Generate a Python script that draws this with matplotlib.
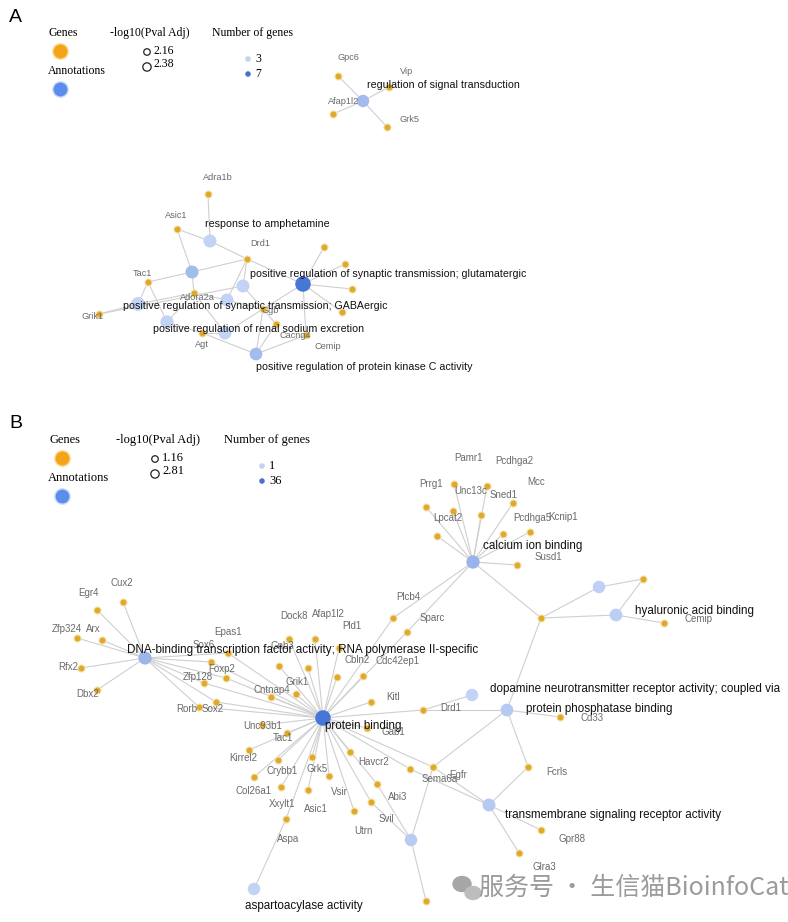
import matplotlib
matplotlib.use('Agg')
import matplotlib.pyplot as plt
import numpy as np
from matplotlib.colors import LinearSegmentedColormap
from matplotlib.patches import Ellipse

# ---------------- panel A data ----------------
A_ann = ['regulation of signal transduction', 'response to amphetamine',
         'positive regulation of synaptic transmission; glutamatergic',
         'positive regulation of synaptic transmission; GABAergic',
         'positive regulation of renal sodium excretion',
         'positive regulation of protein kinase C activity',
         'annA1', 'annA2', 'annA3', 'annA4']
A_pval = [2.16, 2.20, 2.38, 2.25, 2.22, 2.18, 2.20, 2.20, 2.20, 2.20]
A_genes = ['Gpc6', 'Vip', 'Afap1l2', 'Grk5', 'Adra1b', 'Asic1', 'Drd1', 'Tac1',
           'Adora2a', 'Grik1', 'Agt', 'Cacng4', 'gA1', 'gA2', 'gA3', 'gA4', 'gA5', 'gA6']
A_edges = [
    ('regulation of signal transduction', ['Gpc6', 'Vip', 'Afap1l2', 'Grk5']),
    ('response to amphetamine', ['Adra1b', 'Asic1', 'Drd1']),
    ('annA1', ['Tac1', 'Drd1', 'Asic1', 'Adora2a']),
    ('annA2', ['Drd1', 'Grik1', 'gA6']),
    ('annA3', ['Drd1', 'Adora2a', 'gA5']),
    ('positive regulation of synaptic transmission; glutamatergic',
     ['Drd1', 'gA1', 'gA2', 'gA3', 'gA4', 'Cacng4', 'gA5']),
    ('positive regulation of synaptic transmission; GABAergic', ['Tac1', 'Grik1', 'Adora2a']),
    ('positive regulation of renal sodium excretion', ['Tac1', 'Agt', 'Adora2a']),
    ('annA4', ['Adora2a', 'gA5', 'Agt']),
    ('positive regulation of protein kinase C activity', ['Agt', 'gA5', 'Cacng4', 'gA6']),
]

# ---------------- panel B data ----------------
B_ann = ['DNA-binding transcription factor activity; RNA polymerase II-specific',
         'calcium ion binding', 'hyaluronic acid binding', 'annB1',
         'dopamine neurotransmitter receptor activity; coupled via',
         'protein binding', 'protein phosphatase binding',
         'transmembrane signaling receptor activity', 'annB2', 'aspartoacylase activity']
B_pval = [1.5, 1.6, 1.3, 1.2, 1.16, 2.81, 1.3, 1.4, 1.2, 1.2]
pb_genes = ['Dock8', 'Afap1l2', 'Pld1', 'Gnb3', 'gB1', 'Cbln2', 'Cdc42ep1', 'Plcb4',
            'Sparc', 'Kitl', 'Drd1', 'Gab1', 'Havcr2', 'Abi3', 'Svil', 'Utrn', 'Vsir',
            'Asic1', 'Grk5', 'Aspa', 'Xxylt1', 'Col26a1', 'Crybb1', 'Kirrel2', 'Tac1',
            'Unc93b1', 'Grik1', 'Cntnap4', 'Sox2', 'Rorb', 'Zfp128', 'Foxp2', 'Sox6',
            'Epas1', 'Egfr', 'Sema6a']
tf_genes = ['Cux2', 'Egr4', 'Zfp324', 'Arx', 'Rfx2', 'Dbx2', 'Epas1', 'Sox6', 'Foxp2',
            'Zfp128', 'Rorb', 'Sox2']
ca_genes = ['gC1', 'gC2', 'gC3', 'gC4', 'gC5', 'gC6', 'gC7', 'gC8', 'gC9', 'gC10',
            'Plcb4', 'Sparc', 'gJ']
B_edges = [
    (B_ann[0], tf_genes),
    ('calcium ion binding', ca_genes),
    ('hyaluronic acid binding', ['gJ', 'gH', 'Cemip']),
    ('annB1', ['gJ', 'gH']),
    ('dopamine neurotransmitter receptor activity; coupled via', ['Drd1']),
    ('protein binding', pb_genes),
    ('protein phosphatase binding', ['gJ', 'Drd1', 'Cd33', 'Fcrls', 'Sema6a']),
    ('transmembrane signaling receptor activity', ['Fcrls', 'Egfr', 'Sema6a', 'Gpr88', 'Glra3']),
    ('annB2', ['Sema6a', 'Abi3', 'Svil', 'gB2']),
    ('aspartoacylase activity', ['Aspa']),
]

# ---------------- layout (pixel coordinates) ----------------
posA = {
    'regulation of signal transduction': (363, 101), 'response to amphetamine': (210, 241),
    'annA1': (192, 272), 'annA2': (243, 286), 'annA3': (227, 300), 'annA4': (225, 333),
    'positive regulation of synaptic transmission; glutamatergic': (303, 284),
    'positive regulation of synaptic transmission; GABAergic': (138, 304),
    'positive regulation of renal sodium excretion': (167, 322),
    'positive regulation of protein kinase C activity': (256, 354),
    'Gpc6': (338, 76), 'Vip': (389, 87), 'Afap1l2': (333, 114), 'Grk5': (387, 127),
    'Adra1b': (208, 194), 'Asic1': (177, 229), 'Drd1': (247, 259), 'Tac1': (148, 282),
    'Adora2a': (194, 293), 'Grik1': (99, 314), 'Agt': (202, 333), 'Cacng4': (306, 335),
    'gA1': (324, 247), 'gA2': (345, 264), 'gA3': (352, 289), 'gA4': (342, 312),
    'gA5': (263, 309), 'gA6': (276, 324),
}
labA = {
    'Gpc6': (348, 58), 'Vip': (407, 72), 'Afap1l2': (344, 101), 'Grk5': (410, 120),
    'Adra1b': (218, 177), 'Asic1': (176, 215), 'Drd1': (260, 243), 'Tac1': (142, 273),
    'Adora2a': (197, 297), 'Grik1': (93, 316), 'Agt': (202, 344), 'Cacng4': (295, 335),
    'Cemip': (328, 346), 'gA5': (270, 310),
}
textA = {'gA5': 'Ggb'}
annlabA = {
    'regulation of signal transduction': (443, 85),
    'response to amphetamine': (267, 224),
    'positive regulation of synaptic transmission; glutamatergic': (388, 274),
    'positive regulation of synaptic transmission; GABAergic': (255, 306),
    'positive regulation of renal sodium excretion': (259, 329),
    'positive regulation of protein kinase C activity': (364, 367),
}

posB = {
    B_ann[0]: (145, 658), 'calcium ion binding': (473, 562), 'hyaluronic acid binding': (616, 615),
    'annB1': (599, 587), 'dopamine neurotransmitter receptor activity; coupled via': (472, 695),
    'protein binding': (323, 718), 'protein phosphatase binding': (507, 710),
    'transmembrane signaling receptor activity': (489, 805), 'annB2': (411, 840),
    'aspartoacylase activity': (254, 889),
    'Cux2': (123, 602), 'Egr4': (97, 610), 'Zfp324': (77, 638), 'Arx': (102, 640),
    'Rfx2': (81, 668), 'Dbx2': (97, 690), 'Epas1': (228, 653), 'Sox6': (211, 662),
    'Foxp2': (226, 678), 'Zfp128': (204, 683), 'Rorb': (199, 707), 'Sox2': (216, 702),
    'Cntnap4': (271, 697), 'Grik1': (296, 694), 'Dock8': (289, 639), 'Afap1l2': (315, 639),
    'Pld1': (339, 648), 'Gnb3': (279, 666), 'gB1': (308, 668), 'Cbln2': (337, 677),
    'Cdc42ep1': (363, 676), 'Plcb4': (393, 618), 'Sparc': (407, 632), 'Kitl': (371, 702),
    'Drd1': (423, 710), 'Unc93b1': (262, 725), 'Tac1': (287, 733), 'Gab1': (367, 728),
    'Kirrel2': (249, 750), 'Crybb1': (278, 760), 'Grk5': (312, 757), 'Col26a1': (254, 777),
    'Xxylt1': (281, 787), 'Vsir': (329, 776), 'Asic1': (308, 790), 'Aspa': (286, 819),
    'Havcr2': (350, 752), 'Abi3': (377, 784), 'Svil': (371, 802), 'Utrn': (354, 811),
    'Sema6a': (433, 767), 'Egfr': (410, 769), 'Cd33': (560, 717), 'Fcrls': (528, 767),
    'Gpr88': (541, 830), 'Glra3': (519, 853), 'Cemip': (664, 623), 'gJ': (541, 618),
    'gH': (643, 579), 'gB2': (426, 901),
    'gC1': (454, 484), 'gC2': (487, 486), 'gC3': (513, 503), 'gC4': (426, 507),
    'gC5': (453, 511), 'gC6': (481, 515), 'gC7': (503, 534), 'gC8': (530, 532),
    'gC9': (437, 536), 'gC10': (517, 565),
}
labB = {
    'Cux2': (122, 583), 'Egr4': (89, 593), 'Zfp324': (67, 629), 'Arx': (93, 629),
    'Rfx2': (68, 667), 'Dbx2': (88, 694), 'Epas1': (228, 632), 'Sox6': (204, 645),
    'Foxp2': (222, 669), 'Zfp128': (198, 677), 'Rorb': (187, 709), 'Sox2': (213, 709),
    'Cntnap4': (272, 690), 'Grik1': (297, 682), 'Dock8': (294, 616), 'Afap1l2': (328, 614),
    'Pld1': (352, 626), 'Gnb3': (282, 646), 'Cbln2': (357, 660), 'Cdc42ep1': (398, 661),
    'Plcb4': (408, 597), 'Sparc': (432, 618), 'Kitl': (393, 697), 'Drd1': (451, 708),
    'Unc93b1': (263, 726), 'Tac1': (283, 738), 'Gab1': (393, 732), 'Kirrel2': (243, 758),
    'Crybb1': (282, 771), 'Grk5': (317, 769), 'Col26a1': (254, 791), 'Xxylt1': (282, 804),
    'Vsir': (339, 792), 'Asic1': (316, 809), 'Aspa': (288, 839), 'Havcr2': (374, 762),
    'Abi3': (398, 797), 'Svil': (386, 819), 'Utrn': (363, 831), 'Sema6a': (440, 779),
    'Egfr': (458, 775), 'Cd33': (592, 718), 'Fcrls': (557, 772), 'Gpr88': (572, 839),
    'Glra3': (544, 867), 'Cemip': (699, 619),
    'Pamr1': (469, 458), 'Pcdhga2': (514, 461), 'Mcc': (536, 482), 'Prrg1': (431, 484),
    'Unc13c': (471, 491), 'Sned1': (504, 495), 'Lpcat2': (448, 518), 'Pcdhga5': (532, 518),
    'Kcnip1': (563, 517), 'Susd1': (548, 557),
}
annlabB = {
    B_ann[0]: (303, 650), 'calcium ion binding': (533, 546),
    'hyaluronic acid binding': (695, 611),
    'dopamine neurotransmitter receptor activity; coupled via': (490, 689),
    'protein binding': (363, 726), 'protein phosphatase binding': (599, 709),
    'transmembrane signaling receptor activity': (613, 815),
    'aspartoacylase activity': (304, 906),
}
left_labels = {'dopamine neurotransmitter receptor activity; coupled via'}

GOLD = '#dfa92c'
EDGE = '#cfcfcf'
cmap = LinearSegmentedColormap.from_list('blues', ['#c3d3f5', '#4677d6'])


def draw_net(ax, edges, pos, pvals, ann, labs, annlabs, texts, gfs, afs, cmin, cmax, pmin, pmax):
    for a, gl in edges:
        for g in gl:
            x0, y0 = pos[a]
            x1, y1 = pos[g]
            ax.plot([x0, x1], [y0, y1], color=EDGE, lw=0.8, zorder=1)
    genes = sorted({g for _, gl in edges for g in gl})
    ax.scatter([pos[g][0] for g in genes], [pos[g][1] for g in genes], s=26,
               color=GOLD, edgecolor='#f6e3b0', linewidth=0.8, zorder=3)
    counts = {a: len(gl) for a, gl in edges}
    for a, p in zip(ann, pvals):
        c = cmap((counts[a] - cmin) / (cmax - cmin))
        s = 80 + 45 * (p - pmin) / (pmax - pmin)
        ax.scatter(*pos[a], s=s, color=c, edgecolor='none', zorder=2)
    for g, (x, y) in labs.items():
        ax.text(x, y, texts.get(g, g), fontsize=gfs, color='#6a6a6a', ha='center',
                va='center', family='Liberation Sans', zorder=4)
    for a, (x, y) in annlabs.items():
        ha = 'left' if a in left_labels else 'center'
        ax.text(x, y, a, fontsize=afs, color='#111111', ha=ha, va='center',
                family='Liberation Sans', zorder=5, clip_on=True)


def legend(ax, x0, y0, p_vals, n_vals, fs, rr):
    serif = 'Liberation Serif'
    ax.text(x0, y0, 'Genes', fontsize=fs, family=serif, ha='center', va='center')
    ax.scatter(x0 - 3, y0 + 18, s=120, color='#f5a31a', edgecolor='#fbd88a', lw=1, zorder=3)
    ax.text(x0 + 14, y0 + 38, 'Annotations', fontsize=fs, family=serif, ha='center', va='center')
    ax.scatter(x0 - 3, y0 + 56, s=120, color='#5b8ded', edgecolor='#c9d9fb', lw=1, zorder=3)
    ax.text(x0 + 87 + rr, y0, '-log10(Pval Adj)', fontsize=fs, family=serif, ha='center', va='center')
    ax.scatter(x0 + 84 + rr, y0 + 19, s=22, facecolor='none', edgecolor='#222222', lw=0.9)
    ax.text(x0 + 91 + rr, y0 + 18, f'{p_vals[0]:.2f}', fontsize=fs, family=serif, va='center')
    ax.scatter(x0 + 84 + rr, y0 + 34, s=36, facecolor='none', edgecolor='#222222', lw=0.9)
    ax.text(x0 + 91 + rr, y0 + 31, f'{p_vals[1]:.2f}', fontsize=fs, family=serif, va='center')
    ax.text(x0 + 190 + 2 * rr, y0, 'Number of genes', fontsize=fs, family=serif, ha='center', va='center')
    ax.scatter(x0 + 185 + 2 * rr, y0 + 26, s=16, color='#c3d3f0', edgecolor='none')
    ax.text(x0 + 192 + 2 * rr, y0 + 26, str(n_vals[0]), fontsize=fs, family=serif, va='center')
    ax.scatter(x0 + 185 + 2 * rr, y0 + 41, s=16, color='#4a72c8', edgecolor='none')
    ax.text(x0 + 192 + 2 * rr, y0 + 41, str(n_vals[1]), fontsize=fs, family=serif, va='center')


fig = plt.figure(figsize=(7.88, 9.22), dpi=100)
ax = fig.add_axes([0, 0, 1, 1])
ax.set_xlim(0, 788)
ax.set_ylim(922, 0)
ax.axis('off')

ax.text(9, 17, 'A', fontsize=14, family='Liberation Sans', va='center')
ax.text(9, 423, 'B', fontsize=14, family='Liberation Sans', va='center')

legend(ax, 63, 33, [2.16, 2.38], [3, 7], 8.5, 0)
legend(ax, 65, 440, [1.16, 2.81], [1, 36], 9, 6)

draw_net(ax, A_edges, posA, A_pval, A_ann, labA, annlabA, textA, 6.6, 7.7, 3, 7, 2.16, 2.38)
draw_net(ax, B_edges, posB, B_pval, B_ann, labB, annlabB, {}, 7, 8.4, 1, 36, 1.16, 2.81)

# watermark
ax.add_patch(Ellipse((462, 884), 18, 15, color='#a6a6a6', zorder=6))
ax.add_patch(Ellipse((473, 893), 16, 13, color='#bdbdbd', zorder=6))
ax.text(479, 888, '服务号 · 生信猫BioinfoCat', fontsize=18, color='#9b9b9b', va='center',
        family=['Noto Sans CJK SC', 'DejaVu Sans'], zorder=6)

fig.savefig('out.png', dpi=100)
